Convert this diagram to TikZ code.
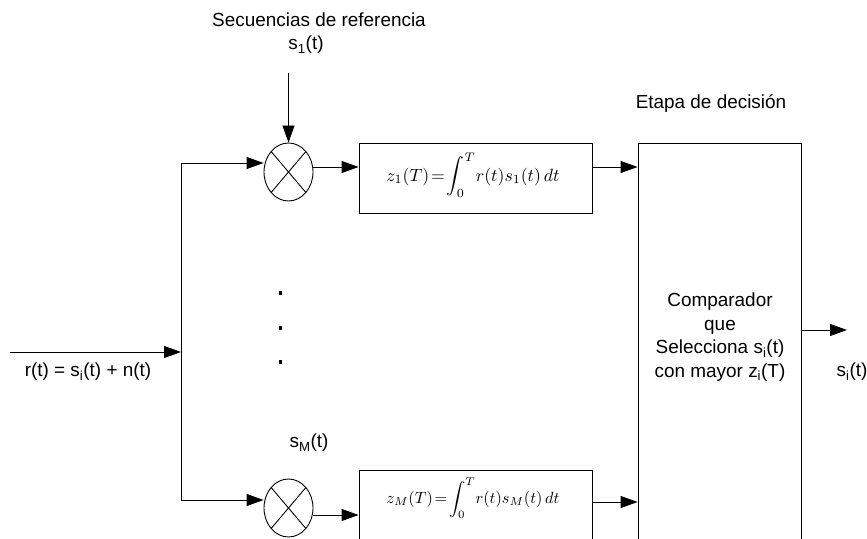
\documentclass[tikz,border=0pt]{standalone}
\usepackage{graphicx}
\usepackage{fontspec}
\setmainfont{Liberation Sans}
\usetikzlibrary{arrows.meta,shapes.geometric}
\tikzset{
  lbl/.style={inner sep=0pt, font=\fontsize{19}{22}\selectfont, align=center},
  mth/.style={inner sep=0pt},
  blk/.style={draw, line width=0.9bp, inner sep=0pt},
  mult/.style={draw, ellipse, line width=0.9bp, minimum width=49bp, minimum height=58bp, inner sep=0pt},
  conn/.style={line width=0.9bp},
  arr/.style={conn, -{Triangle[length=17bp,width=12bp]}},
  dotm/.style={fill, inner sep=0pt, minimum width=3bp, minimum height=4bp}
}
\begin{document}
\begin{tikzpicture}[x=1bp,y=-1bp]
\clip (0,0) rectangle (867,539);
\fill[white] (0,0) rectangle (867,539);
% labels
\node[lbl] (sec) at (319,20) {Secuencias de referencia};
\node[lbl] (s1) at (306,45) {s\textsubscript{1}(t)};
\node[lbl] (etapa) at (711,103) {Etapa de decisión};
\node[lbl] (sM) at (309,443) {s\textsubscript{M}(t)};
\node[lbl] (rin) at (88,372) {r(t) = s\textsubscript{i}(t) + n(t)};
\node[lbl] (sout) at (852,372) {s\textsubscript{i}(t)};
% multipliers
\node[mult] (m1) at (288.5,172) {};
\node[mult] (mM) at (288.5,508) {};
\foreach \m in {m1,mM}{
  \draw[conn] (\m.north west) -- (\m.south east);
  \draw[conn] (\m.north east) -- (\m.south west);
}
% integrator boxes
\node[blk, minimum width=233bp, minimum height=70bp] (b1) at (475.5,178) {};
\node[blk, minimum width=233bp, minimum height=80bp] (bM) at (475.5,510) {};
\node[mth] (f1) at (473,175) {\resizebox{173bp}{!}{$\displaystyle z_1(T)\!=\!\int_0^T\! r(t)s_1(t)\,dt$}};
\node[mth] (fM) at (473,498) {\resizebox{173bp}{!}{$\displaystyle z_M(T)\!=\!\int_0^T\! r(t)s_M(t)\,dt$}};
% comparator
\node[blk, minimum width=163bp, minimum height=420bp] (comp) at (719.5,353) {};
\node[lbl, font=\fontsize{19}{23.5}\selectfont] (ctext) at (720,337) {Comparador\\que\\Selecciona s\textsubscript{i}(t)\\con mayor z\textsubscript{i}(T)};
% dots
\node[dotm] (d1) at (280,293) {};
\node[dotm] (d2) at (280,328) {};
\node[dotm] (d3) at (280,362) {};
% connectors
\coordinate (rstart) at (10,352);
\coordinate (trunk) at (181,352);
\coordinate (ttop) at (181,163);
\coordinate (tbot) at (181,500);
\coordinate (s1top) at (288.5,73);
\coordinate (outend) at (847,330);
\draw[arr] (rstart) -- (trunk);
\draw[conn] (ttop) -- (tbot);
\draw[arr] (ttop) -- (ttop -| m1.west);
\draw[arr] (tbot) -- (tbot -| mM.west);
\draw[arr] (s1top) -- (m1.north);
\draw[arr] (m1.east |- 0,167) -- (b1.west |- 0,167);
\draw[arr] (mM.east |- 0,515) -- (bM.west |- 0,515);
\draw[arr] (b1.east |- 0,167) -- (comp.west |- 0,167);
\draw[arr] (bM.east |- 0,502) -- (comp.west |- 0,502);
\draw[arr] (comp.east |- outend) -- (outend);
\end{tikzpicture}
\end{document}
